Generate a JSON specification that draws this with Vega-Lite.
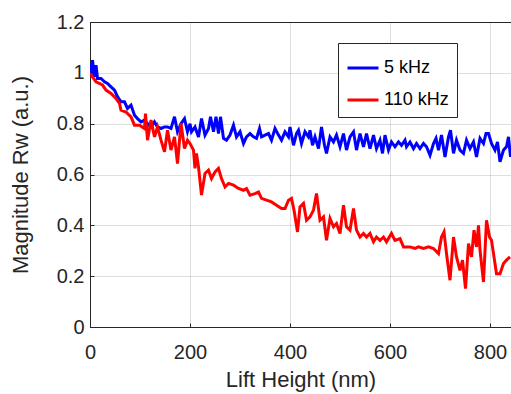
{
  "$schema": "https://vega.github.io/schema/vega-lite/v6.json",
  "width": 421,
  "height": 305,
  "autosize": {"type": "none"},
  "padding": {"left": 90, "top": 22, "right": 0, "bottom": 67},
  "background": "white",
  "config": {
    "font": "Liberation Sans",
    "view": {"stroke": "#262626", "strokeWidth": 1},
    "axis": {
      "grid": true,
      "gridColor": "#262626",
      "gridOpacity": 0.15,
      "domainColor": "#262626",
      "tickColor": "#262626",
      "labelColor": "#262626",
      "titleColor": "#262626",
      "labelFontSize": 20,
      "titleFontSize": 22,
      "titleFontWeight": "normal",
      "labelFlush": false,
      "tickSize": -4
    },
    "legend": {
      "labelFont": "Liberation Sans",
      "labelFontSize": 18,
      "labelColor": "#000000"
    }
  },
  "data": {
    "values": [
      {"h":0,"m":1.037,"s":"5 kHz"},{"h":2,"m":0.991,"s":"5 kHz"},{"h":5,"m":1.05,"s":"5 kHz"},{"h":9,"m":0.984,"s":"5 kHz"},{"h":12,"m":1.03,"s":"5 kHz"},{"h":15,"m":0.978,"s":"5 kHz"},{"h":22,"m":0.978,"s":"5 kHz"},{"h":29,"m":0.965,"s":"5 kHz"},{"h":35,"m":0.958,"s":"5 kHz"},{"h":42,"m":0.945,"s":"5 kHz"},{"h":49,"m":0.932,"s":"5 kHz"},{"h":55,"m":0.906,"s":"5 kHz"},{"h":62,"m":0.886,"s":"5 kHz"},{"h":69,"m":0.886,"s":"5 kHz"},{"h":75,"m":0.86,"s":"5 kHz"},{"h":82,"m":0.873,"s":"5 kHz"},{"h":89,"m":0.833,"s":"5 kHz"},{"h":95,"m":0.82,"s":"5 kHz"},{"h":102,"m":0.807,"s":"5 kHz"},{"h":109,"m":0.814,"s":"5 kHz"},{"h":115,"m":0.8,"s":"5 kHz"},{"h":122,"m":0.787,"s":"5 kHz"},{"h":129,"m":0.807,"s":"5 kHz"},{"h":135,"m":0.787,"s":"5 kHz"},{"h":142,"m":0.781,"s":"5 kHz"},{"h":149,"m":0.787,"s":"5 kHz"},{"h":155,"m":0.787,"s":"5 kHz"},{"h":162,"m":0.781,"s":"5 kHz"},{"h":169,"m":0.827,"s":"5 kHz"},{"h":175,"m":0.768,"s":"5 kHz"},{"h":182,"m":0.8,"s":"5 kHz"},{"h":189,"m":0.82,"s":"5 kHz"},{"h":195,"m":0.768,"s":"5 kHz"},{"h":200,"m":0.8,"s":"5 kHz"},{"h":203,"m":0.768,"s":"5 kHz"},{"h":210,"m":0.787,"s":"5 kHz"},{"h":217,"m":0.748,"s":"5 kHz"},{"h":223,"m":0.82,"s":"5 kHz"},{"h":230,"m":0.755,"s":"5 kHz"},{"h":237,"m":0.781,"s":"5 kHz"},{"h":241,"m":0.827,"s":"5 kHz"},{"h":247,"m":0.768,"s":"5 kHz"},{"h":252,"m":0.827,"s":"5 kHz"},{"h":257,"m":0.761,"s":"5 kHz"},{"h":261,"m":0.827,"s":"5 kHz"},{"h":267,"m":0.742,"s":"5 kHz"},{"h":273,"m":0.735,"s":"5 kHz"},{"h":280,"m":0.755,"s":"5 kHz"},{"h":287,"m":0.794,"s":"5 kHz"},{"h":293,"m":0.748,"s":"5 kHz"},{"h":300,"m":0.768,"s":"5 kHz"},{"h":307,"m":0.722,"s":"5 kHz"},{"h":313,"m":0.748,"s":"5 kHz"},{"h":320,"m":0.761,"s":"5 kHz"},{"h":327,"m":0.748,"s":"5 kHz"},{"h":333,"m":0.742,"s":"5 kHz"},{"h":339,"m":0.781,"s":"5 kHz"},{"h":343,"m":0.748,"s":"5 kHz"},{"h":350,"m":0.755,"s":"5 kHz"},{"h":357,"m":0.761,"s":"5 kHz"},{"h":363,"m":0.735,"s":"5 kHz"},{"h":370,"m":0.781,"s":"5 kHz"},{"h":377,"m":0.755,"s":"5 kHz"},{"h":383,"m":0.735,"s":"5 kHz"},{"h":390,"m":0.768,"s":"5 kHz"},{"h":397,"m":0.748,"s":"5 kHz"},{"h":400,"m":0.787,"s":"5 kHz"},{"h":407,"m":0.715,"s":"5 kHz"},{"h":413,"m":0.761,"s":"5 kHz"},{"h":417,"m":0.774,"s":"5 kHz"},{"h":423,"m":0.722,"s":"5 kHz"},{"h":430,"m":0.768,"s":"5 kHz"},{"h":437,"m":0.748,"s":"5 kHz"},{"h":440,"m":0.774,"s":"5 kHz"},{"h":445,"m":0.715,"s":"5 kHz"},{"h":450,"m":0.748,"s":"5 kHz"},{"h":457,"m":0.702,"s":"5 kHz"},{"h":463,"m":0.787,"s":"5 kHz"},{"h":469,"m":0.715,"s":"5 kHz"},{"h":473,"m":0.683,"s":"5 kHz"},{"h":480,"m":0.748,"s":"5 kHz"},{"h":487,"m":0.728,"s":"5 kHz"},{"h":493,"m":0.755,"s":"5 kHz"},{"h":500,"m":0.709,"s":"5 kHz"},{"h":507,"m":0.761,"s":"5 kHz"},{"h":513,"m":0.696,"s":"5 kHz"},{"h":520,"m":0.748,"s":"5 kHz"},{"h":527,"m":0.768,"s":"5 kHz"},{"h":533,"m":0.696,"s":"5 kHz"},{"h":540,"m":0.761,"s":"5 kHz"},{"h":547,"m":0.709,"s":"5 kHz"},{"h":553,"m":0.761,"s":"5 kHz"},{"h":560,"m":0.702,"s":"5 kHz"},{"h":567,"m":0.755,"s":"5 kHz"},{"h":573,"m":0.702,"s":"5 kHz"},{"h":580,"m":0.735,"s":"5 kHz"},{"h":585,"m":0.683,"s":"5 kHz"},{"h":590,"m":0.755,"s":"5 kHz"},{"h":597,"m":0.696,"s":"5 kHz"},{"h":603,"m":0.728,"s":"5 kHz"},{"h":610,"m":0.709,"s":"5 kHz"},{"h":617,"m":0.728,"s":"5 kHz"},{"h":623,"m":0.715,"s":"5 kHz"},{"h":630,"m":0.735,"s":"5 kHz"},{"h":633,"m":0.709,"s":"5 kHz"},{"h":640,"m":0.728,"s":"5 kHz"},{"h":647,"m":0.702,"s":"5 kHz"},{"h":653,"m":0.722,"s":"5 kHz"},{"h":660,"m":0.702,"s":"5 kHz"},{"h":667,"m":0.722,"s":"5 kHz"},{"h":673,"m":0.709,"s":"5 kHz"},{"h":680,"m":0.676,"s":"5 kHz"},{"h":687,"m":0.722,"s":"5 kHz"},{"h":692,"m":0.742,"s":"5 kHz"},{"h":697,"m":0.696,"s":"5 kHz"},{"h":703,"m":0.755,"s":"5 kHz"},{"h":710,"m":0.669,"s":"5 kHz"},{"h":717,"m":0.748,"s":"5 kHz"},{"h":721,"m":0.774,"s":"5 kHz"},{"h":727,"m":0.683,"s":"5 kHz"},{"h":733,"m":0.735,"s":"5 kHz"},{"h":740,"m":0.696,"s":"5 kHz"},{"h":747,"m":0.683,"s":"5 kHz"},{"h":753,"m":0.735,"s":"5 kHz"},{"h":760,"m":0.702,"s":"5 kHz"},{"h":767,"m":0.728,"s":"5 kHz"},{"h":773,"m":0.669,"s":"5 kHz"},{"h":780,"m":0.742,"s":"5 kHz"},{"h":787,"m":0.722,"s":"5 kHz"},{"h":792,"m":0.761,"s":"5 kHz"},{"h":797,"m":0.761,"s":"5 kHz"},{"h":803,"m":0.722,"s":"5 kHz"},{"h":810,"m":0.696,"s":"5 kHz"},{"h":815,"m":0.728,"s":"5 kHz"},{"h":820,"m":0.65,"s":"5 kHz"},{"h":827,"m":0.696,"s":"5 kHz"},{"h":833,"m":0.709,"s":"5 kHz"},{"h":837,"m":0.748,"s":"5 kHz"},{"h":841,"m":0.669,"s":"5 kHz"},
      {"h":0,"m":0.998,"s":"110 kHz"},{"h":12,"m":0.965,"s":"110 kHz"},{"h":25,"m":0.952,"s":"110 kHz"},{"h":32,"m":0.932,"s":"110 kHz"},{"h":42,"m":0.919,"s":"110 kHz"},{"h":52,"m":0.899,"s":"110 kHz"},{"h":59,"m":0.88,"s":"110 kHz"},{"h":62,"m":0.853,"s":"110 kHz"},{"h":72,"m":0.846,"s":"110 kHz"},{"h":82,"m":0.827,"s":"110 kHz"},{"h":89,"m":0.794,"s":"110 kHz"},{"h":99,"m":0.794,"s":"110 kHz"},{"h":109,"m":0.781,"s":"110 kHz"},{"h":111,"m":0.84,"s":"110 kHz"},{"h":115,"m":0.735,"s":"110 kHz"},{"h":122,"m":0.814,"s":"110 kHz"},{"h":129,"m":0.748,"s":"110 kHz"},{"h":135,"m":0.787,"s":"110 kHz"},{"h":142,"m":0.735,"s":"110 kHz"},{"h":149,"m":0.689,"s":"110 kHz"},{"h":155,"m":0.774,"s":"110 kHz"},{"h":162,"m":0.696,"s":"110 kHz"},{"h":169,"m":0.748,"s":"110 kHz"},{"h":175,"m":0.643,"s":"110 kHz"},{"h":182,"m":0.801,"s":"110 kHz"},{"h":189,"m":0.702,"s":"110 kHz"},{"h":195,"m":0.735,"s":"110 kHz"},{"h":200,"m":0.722,"s":"110 kHz"},{"h":207,"m":0.696,"s":"110 kHz"},{"h":210,"m":0.624,"s":"110 kHz"},{"h":213,"m":0.683,"s":"110 kHz"},{"h":217,"m":0.63,"s":"110 kHz"},{"h":223,"m":0.519,"s":"110 kHz"},{"h":230,"m":0.604,"s":"110 kHz"},{"h":237,"m":0.617,"s":"110 kHz"},{"h":243,"m":0.584,"s":"110 kHz"},{"h":250,"m":0.61,"s":"110 kHz"},{"h":257,"m":0.624,"s":"110 kHz"},{"h":263,"m":0.584,"s":"110 kHz"},{"h":270,"m":0.551,"s":"110 kHz"},{"h":277,"m":0.565,"s":"110 kHz"},{"h":287,"m":0.558,"s":"110 kHz"},{"h":297,"m":0.545,"s":"110 kHz"},{"h":307,"m":0.538,"s":"110 kHz"},{"h":313,"m":0.545,"s":"110 kHz"},{"h":320,"m":0.519,"s":"110 kHz"},{"h":330,"m":0.525,"s":"110 kHz"},{"h":337,"m":0.531,"s":"110 kHz"},{"h":343,"m":0.506,"s":"110 kHz"},{"h":353,"m":0.499,"s":"110 kHz"},{"h":363,"m":0.492,"s":"110 kHz"},{"h":373,"m":0.479,"s":"110 kHz"},{"h":383,"m":0.466,"s":"110 kHz"},{"h":390,"m":0.466,"s":"110 kHz"},{"h":397,"m":0.499,"s":"110 kHz"},{"h":403,"m":0.506,"s":"110 kHz"},{"h":408,"m":0.46,"s":"110 kHz"},{"h":415,"m":0.374,"s":"110 kHz"},{"h":420,"m":0.472,"s":"110 kHz"},{"h":427,"m":0.486,"s":"110 kHz"},{"h":433,"m":0.42,"s":"110 kHz"},{"h":440,"m":0.433,"s":"110 kHz"},{"h":447,"m":0.46,"s":"110 kHz"},{"h":453,"m":0.525,"s":"110 kHz"},{"h":460,"m":0.42,"s":"110 kHz"},{"h":467,"m":0.433,"s":"110 kHz"},{"h":473,"m":0.341,"s":"110 kHz"},{"h":480,"m":0.427,"s":"110 kHz"},{"h":487,"m":0.394,"s":"110 kHz"},{"h":493,"m":0.407,"s":"110 kHz"},{"h":500,"m":0.368,"s":"110 kHz"},{"h":507,"m":0.479,"s":"110 kHz"},{"h":513,"m":0.394,"s":"110 kHz"},{"h":520,"m":0.381,"s":"110 kHz"},{"h":527,"m":0.466,"s":"110 kHz"},{"h":533,"m":0.381,"s":"110 kHz"},{"h":540,"m":0.354,"s":"110 kHz"},{"h":547,"m":0.368,"s":"110 kHz"},{"h":553,"m":0.354,"s":"110 kHz"},{"h":560,"m":0.368,"s":"110 kHz"},{"h":567,"m":0.335,"s":"110 kHz"},{"h":573,"m":0.354,"s":"110 kHz"},{"h":580,"m":0.341,"s":"110 kHz"},{"h":587,"m":0.354,"s":"110 kHz"},{"h":593,"m":0.335,"s":"110 kHz"},{"h":603,"m":0.368,"s":"110 kHz"},{"h":610,"m":0.341,"s":"110 kHz"},{"h":620,"m":0.348,"s":"110 kHz"},{"h":627,"m":0.315,"s":"110 kHz"},{"h":640,"m":0.315,"s":"110 kHz"},{"h":650,"m":0.309,"s":"110 kHz"},{"h":657,"m":0.315,"s":"110 kHz"},{"h":667,"m":0.309,"s":"110 kHz"},{"h":677,"m":0.315,"s":"110 kHz"},{"h":687,"m":0.309,"s":"110 kHz"},{"h":697,"m":0.289,"s":"110 kHz"},{"h":703,"m":0.354,"s":"110 kHz"},{"h":708,"m":0.374,"s":"110 kHz"},{"h":713,"m":0.289,"s":"110 kHz"},{"h":720,"m":0.184,"s":"110 kHz"},{"h":727,"m":0.354,"s":"110 kHz"},{"h":733,"m":0.276,"s":"110 kHz"},{"h":740,"m":0.223,"s":"110 kHz"},{"h":745,"m":0.263,"s":"110 kHz"},{"h":751,"m":0.151,"s":"110 kHz"},{"h":757,"m":0.328,"s":"110 kHz"},{"h":763,"m":0.276,"s":"110 kHz"},{"h":768,"m":0.381,"s":"110 kHz"},{"h":773,"m":0.315,"s":"110 kHz"},{"h":777,"m":0.4,"s":"110 kHz"},{"h":780,"m":0.302,"s":"110 kHz"},{"h":787,"m":0.177,"s":"110 kHz"},{"h":793,"m":0.42,"s":"110 kHz"},{"h":799,"m":0.354,"s":"110 kHz"},{"h":803,"m":0.341,"s":"110 kHz"},{"h":808,"m":0.276,"s":"110 kHz"},{"h":813,"m":0.21,"s":"110 kHz"},{"h":820,"m":0.21,"s":"110 kHz"},{"h":827,"m":0.25,"s":"110 kHz"},{"h":833,"m":0.263,"s":"110 kHz"},{"h":840,"m":0.276,"s":"110 kHz"}
    ]
  },
  "mark": {"type": "line", "strokeWidth": 3, "clip": true},
  "encoding": {
    "x": {
      "field": "h",
      "type": "quantitative",
      "scale": {"domain": [0, 842], "nice": false, "zero": false},
      "axis": {"values": [0, 200, 400, 600, 800], "title": "Lift Height (nm)", "labelPadding": 19, "titlePadding": 7}
    },
    "y": {
      "field": "m",
      "type": "quantitative",
      "scale": {"domain": [0, 1.2], "nice": false},
      "axis": {"values": [0, 0.2, 0.4, 0.6, 0.8, 1, 1.2], "format": "~g", "title": "Magnitude Rw (a.u.)", "labelPadding": 10, "titlePadding": 24}
    },
    "color": {
      "field": "s",
      "type": "nominal",
      "scale": {"domain": ["5 kHz", "110 kHz"], "range": ["#0000ff", "#ff0000"]},
      "legend": {
        "orient": "none",
        "legendX": 248,
        "legendY": 21,
        "title": null,
        "symbolType": "stroke",
        "symbolSize": 961,
        "symbolStrokeWidth": 3,
        "fillColor": "white",
        "strokeColor": "#262626",
        "padding": 8,
        "rowPadding": 6,
        "labelOffset": 4
      }
    }
  }
}
